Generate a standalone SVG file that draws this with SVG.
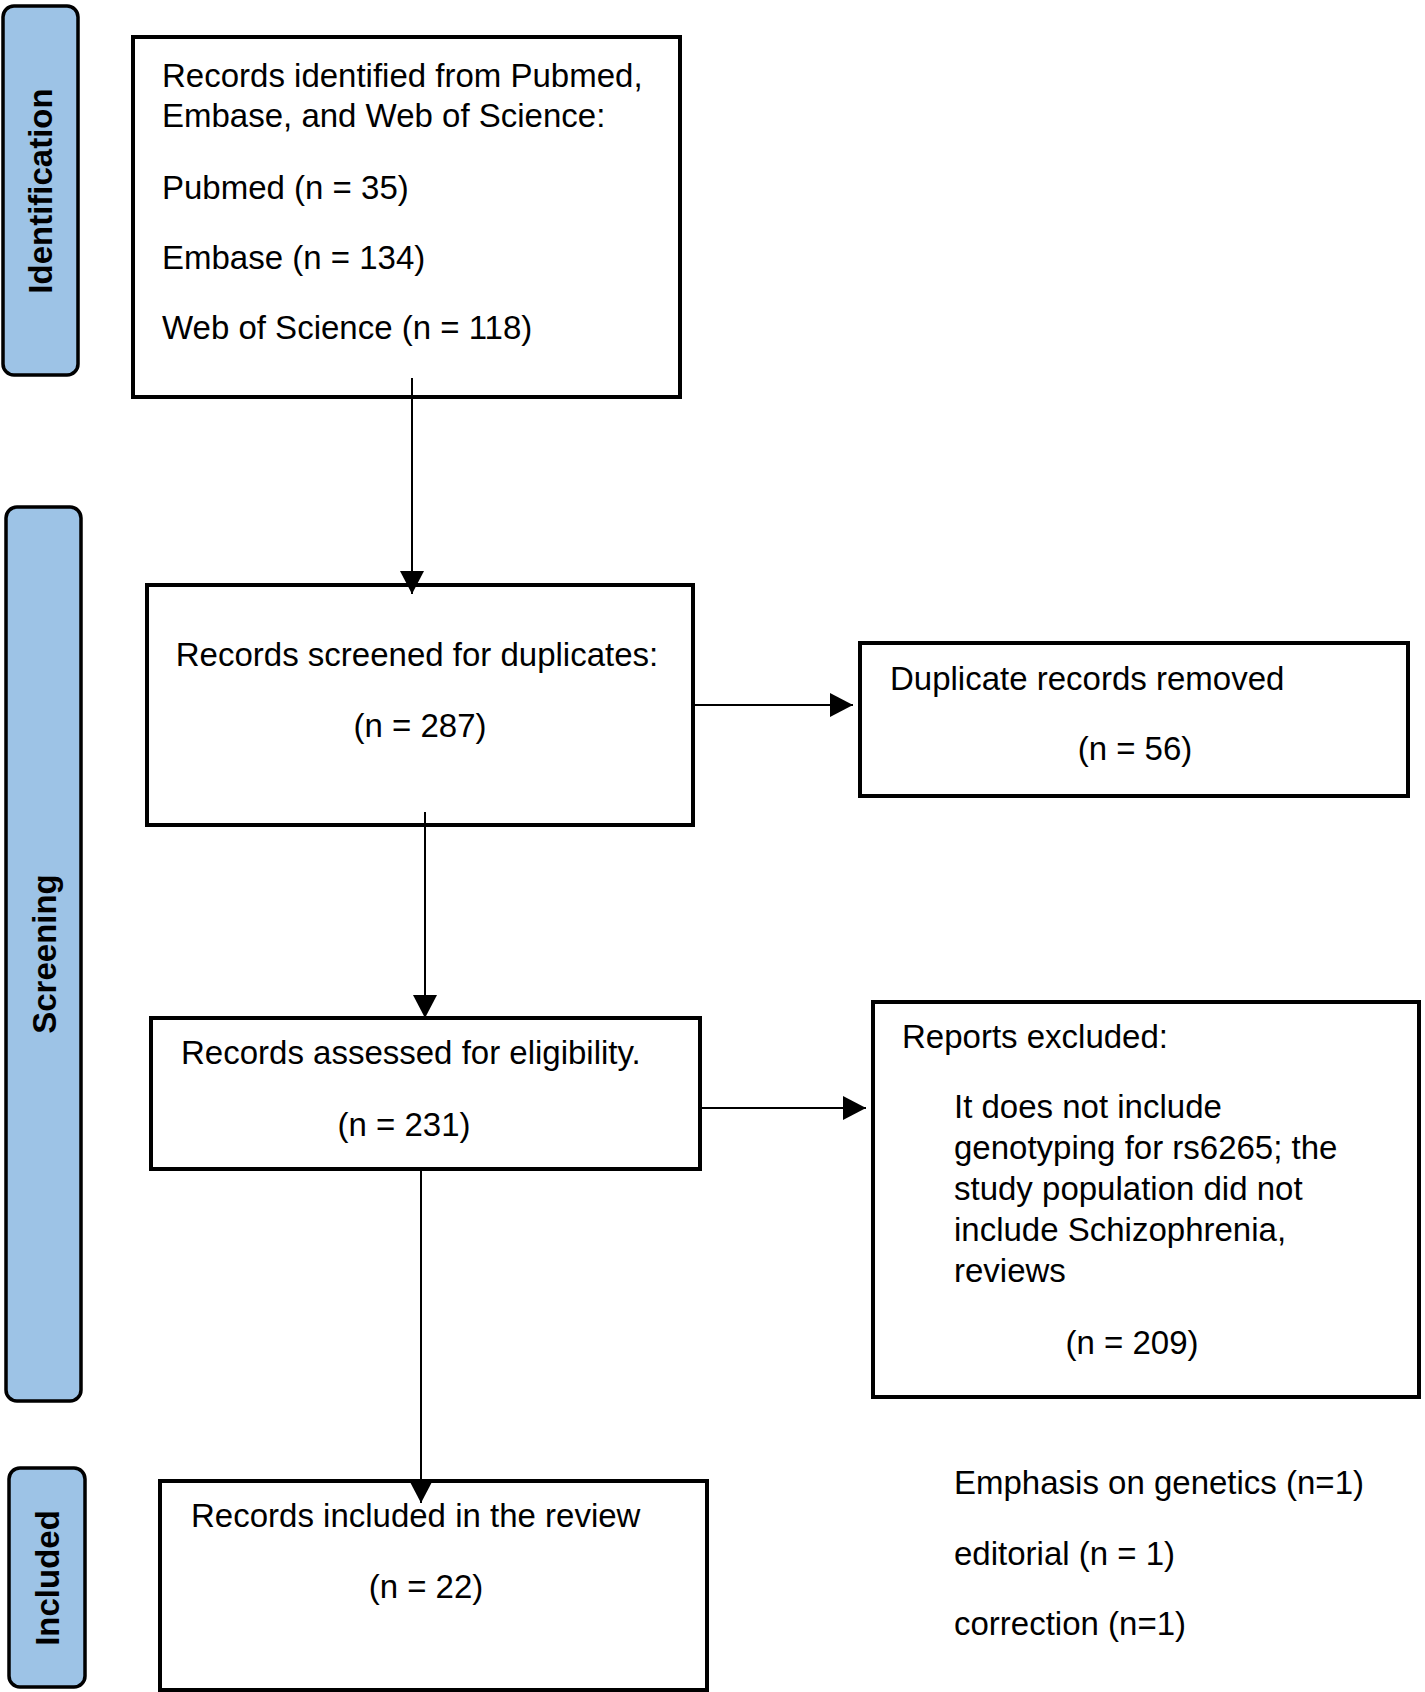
<svg xmlns="http://www.w3.org/2000/svg" width="1425" height="1692" viewBox="0 0 1425 1692">
<style>
.bar{fill:#9DC3E6;stroke:#000;stroke-width:3.5}
.box{fill:#fff;stroke:#000;stroke-width:4}
.t{font-family:"Liberation Sans",Arial,sans-serif;font-size:33px;fill:#000}
.c{text-anchor:middle}
.lab{font-family:"Liberation Sans",Arial,sans-serif;font-size:33px;font-weight:bold;fill:#000;text-anchor:middle}
.con{stroke:#000;stroke-width:2;fill:none}
</style>
<defs>
<marker id="ah" markerUnits="userSpaceOnUse" markerWidth="26" markerHeight="26" refX="23" refY="12" orient="auto">
<path d="M0,0 L23,12 L0,24 z" fill="#000"/>
</marker>
</defs>
<rect width="1425" height="1692" fill="#fff"/>
<g id="phase-identification">
<rect class="bar" x="3" y="6" width="75" height="369" rx="11"/>
<text class="lab" transform="translate(52,191) rotate(-90)">Identification</text>
</g>
<g id="phase-screening">
<rect class="bar" x="6" y="507" width="75" height="894" rx="11"/>
<text class="lab" transform="translate(56,954) rotate(-90)">Screening</text>
</g>
<g id="phase-included">
<rect class="bar" x="9" y="1468" width="76" height="219" rx="11"/>
<text class="lab" transform="translate(59,1578) rotate(-90)">Included</text>
</g>
<g id="connectors">
<line class="con" x1="412" y1="378" x2="412" y2="594" marker-end="url(#ah)"/>
<line class="con" x1="693" y1="705" x2="853" y2="705" marker-end="url(#ah)"/>
<line class="con" x1="425" y1="812" x2="425" y2="1018" marker-end="url(#ah)"/>
<line class="con" x1="700" y1="1108" x2="866" y2="1108" marker-end="url(#ah)"/>
<line class="con" x1="421" y1="1169" x2="421" y2="1503" marker-end="url(#ah)"/>
</g>
<g id="node-identified">
<rect class="box" x="133" y="37" width="547" height="360" style="fill:none"/>
<text class="t" x="162" y="87">Records identified from Pubmed,</text>
<text class="t" x="162" y="127">Embase, and Web of Science:</text>
<text class="t" x="162" y="199">Pubmed (n = 35)</text>
<text class="t" x="162" y="269">Embase (n = 134)</text>
<text class="t" x="162" y="339">Web of Science (n = 118)</text>
</g>
<g id="node-screened">
<rect class="box" x="147" y="585" width="546" height="240" style="fill:none"/>
<text class="t c" x="417" y="666">Records screened for duplicates:</text>
<text class="t c" x="420" y="737">(n = 287)</text>
</g>
<g id="node-duplicates">
<rect class="box" x="860" y="643" width="548" height="153"/>
<text class="t" x="890" y="690">Duplicate records removed</text>
<text class="t c" x="1135" y="760">(n = 56)</text>
</g>
<g id="node-assessed">
<rect class="box" x="151" y="1018" width="549" height="151"/>
<text class="t" x="181" y="1064">Records assessed for eligibility.</text>
<text class="t c" x="404" y="1136">(n = 231)</text>
</g>
<g id="node-excluded">
<rect class="box" x="873" y="1002" width="546" height="395"/>
<text class="t" x="902" y="1048">Reports excluded:</text>
<text class="t" x="954" y="1118">It does not include</text>
<text class="t" x="954" y="1159">genotyping for rs6265; the</text>
<text class="t" x="954" y="1200">study population did not</text>
<text class="t" x="954" y="1241">include Schizophrenia,</text>
<text class="t" x="954" y="1282">reviews</text>
<text class="t c" x="1132" y="1354">(n = 209)</text>
</g>
<g id="node-included">
<rect class="box" x="160" y="1481" width="547" height="209" style="fill:none"/>
<text class="t" x="191" y="1527">Records included in the review</text>
<text class="t c" x="426" y="1598">(n = 22)</text>
</g>
<g id="note-other">
<text class="t" x="954" y="1494">Emphasis on genetics (n=1)</text>
<text class="t" x="954" y="1565">editorial (n = 1)</text>
<text class="t" x="954" y="1635">correction (n=1)</text>
</g>
</svg>
